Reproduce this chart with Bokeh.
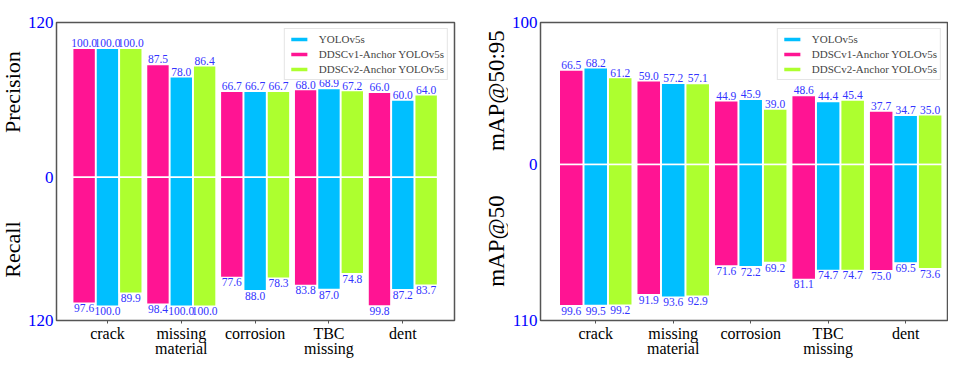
import math
from bokeh.plotting import figure
from bokeh.models import (FixedTicker, Legend, LegendItem, ColumnDataSource,
                          Range1d, LabelSet)
from bokeh.core.properties import value
from bokeh.layouts import row
from bokeh.embed import file_html
from bokeh.resources import INLINE

# ---------------- data ----------------
categories = ["crack", "missing\nmaterial", "corrosion", "TBC\nmissing", "dent"]
series_names = ["DDSCv1-Anchor YOLOv5s", "YOLOv5s", "DDSCv2-Anchor YOLOv5s"]  # bar order in groups
legend_order = ["YOLOv5s", "DDSCv1-Anchor YOLOv5s", "DDSCv2-Anchor YOLOv5s"]
colors = ["#FF1493", "#00BFFF", "#ADFF2F"]

precision_v1 = [100.0, 87.5, 66.7, 68.0, 66.0]
precision_yolo = [100.0, 78.0, 66.7, 68.9, 60.0]
precision_v2 = [100.0, 86.4, 66.7, 67.2, 64.0]

recall_v1 = [97.6, 98.4, 77.6, 83.8, 99.8]
recall_yolo = [100.0, 100.0, 88.0, 87.0, 87.2]
recall_v2 = [89.9, 100.0, 78.3, 74.8, 83.7]

map5095_v1 = [66.5, 59.0, 44.9, 48.6, 37.7]
map5095_yolo = [68.2, 57.2, 45.9, 44.4, 34.7]
map5095_v2 = [61.2, 57.1, 39.0, 45.4, 35.0]

map50_v1 = [99.6, 91.9, 71.6, 81.1, 75.0]
map50_yolo = [99.5, 93.6, 72.2, 74.7, 69.5]
map50_v2 = [99.2, 92.9, 69.2, 74.7, 73.6]

left_tick_labels = ["120", "0", "120"]
right_tick_labels = ["100", "0", "110"]

FONT = "'Liberation Serif', 'Times New Roman', serif"
VAL_COLOR = "#3333FF"
FIG_H = 360
TOP_B = 22
BOTTOM_B = 40


def make_panel(up, down, y_range, tick_labels, width, border_left, border_right,
               x_start, x_end):
    y_top = y_range.end
    y_bottom = -y_range.start
    p = figure(width=width, height=FIG_H, output_backend="svg", toolbar_location=None,
               x_range=Range1d(x_start, x_end), y_range=y_range,
               min_border_left=border_left, min_border_right=border_right,
               min_border_top=TOP_B, min_border_bottom=30)
    p.grid.visible = False
    p.outline_line_color = "#555555"
    p.outline_line_width = 1.5
    p.background_fill_color = "white"

    offsets = [-0.316, 0.0, 0.316]
    renderers = {}
    for k, name in enumerate(series_names):
        xs = [i + offsets[k] for i in range(len(categories))]
        src_up = ColumnDataSource(dict(x=xs, top=up[k], bottom=[0] * len(xs),
                                       lab=[f"{v:.1f}" for v in up[k]]))
        src_dn = ColumnDataSource(dict(x=xs, top=[0] * len(xs), bottom=[-v for v in down[k]],
                                       lab=[f"{v:.1f}" for v in down[k]]))
        r = p.vbar(x="x", width=0.31, top="top", bottom="bottom", source=src_up,
                   fill_color=colors[k], line_color="white", line_width=1.5)
        p.vbar(x="x", width=0.31, top="top", bottom="bottom", source=src_dn,
               fill_color=colors[k], line_color="white", line_width=1.5)
        renderers[name] = r
        p.add_layout(LabelSet(x="x", y="top", text="lab", source=src_up, y_offset=1,
                              text_align="center", text_baseline="bottom",
                              text_font=FONT, text_font_size="11.5px", text_color=VAL_COLOR))
        p.add_layout(LabelSet(x="x", y="bottom", text="lab", source=src_dn, y_offset=-1,
                              text_align="center", text_baseline="top",
                              text_font=FONT, text_font_size="11.5px", text_color=VAL_COLOR))

    # y axis
    ticks = [-y_bottom, 0, y_top]
    p.yaxis.ticker = FixedTicker(ticks=ticks)
    p.yaxis.major_label_overrides = {ticks[0]: tick_labels[2], ticks[1]: tick_labels[1],
                                     ticks[2]: tick_labels[0]}
    p.yaxis.major_label_text_color = "blue"
    p.yaxis.major_label_text_font = FONT
    p.yaxis.major_label_text_font_size = "17px"
    p.yaxis.major_tick_line_color = None
    p.yaxis.major_tick_in = 0
    p.yaxis.major_tick_out = 0
    p.yaxis.minor_tick_line_color = None
    p.yaxis.axis_line_color = None
    p.yaxis.major_label_standoff = 3

    # x axis
    p.xaxis.ticker = FixedTicker(ticks=list(range(len(categories))))
    p.xaxis.major_label_overrides = {i: c for i, c in enumerate(categories)}
    p.xaxis.major_label_text_font = FONT
    p.xaxis.major_label_text_font_size = "16px"
    p.xaxis.major_label_text_line_height = 0.9
    p.xaxis.major_label_text_color = "black"
    p.xaxis.major_tick_in = 0
    p.xaxis.major_tick_out = 3
    p.xaxis.major_tick_line_color = "#555555"
    p.xaxis.minor_tick_line_color = None
    p.xaxis.axis_line_color = None
    p.xaxis.major_label_standoff = 1
    p.xaxis.axis_label_standoff = 0

    legend = Legend(items=[LegendItem(label=n, renderers=[renderers[n]]) for n in legend_order],
                    location="top_right", label_text_font=FONT, label_text_font_size="11px",
                    glyph_width=22, glyph_height=6, label_height=14, spacing=1,
                    padding=3, margin=6, label_standoff=9,
                    border_line_color="#cccccc", border_line_width=1,
                    background_fill_alpha=1.0)
    p.add_layout(legend)
    return p


def make_title_strip(y_range, titles, title_ys, width, size):
    """Narrow strip holding the two half-axis titles, sharing the panel's y range."""
    t = figure(width=width, height=FIG_H, output_backend="svg", toolbar_location=None,
               x_range=Range1d(0, 1), y_range=y_range,
               x_axis_location=None, y_axis_location=None,
               min_border_left=0, min_border_right=0,
               min_border_top=TOP_B, min_border_bottom=BOTTOM_B)
    t.grid.visible = False
    t.outline_line_color = None
    t.text(x=[0.5, 0.5], y=title_ys, text=titles, angle=math.pi / 2,
           text_align="center", text_baseline="middle", text_font=value(FONT),
           text_font_size=value(size), text_color="black")
    return t


yr1 = Range1d(-111, 120)
yr2 = Range1d(-110, 100)

t1 = make_title_strip(yr1, ["Precision", "Recall"], [66, -56], 24, "22px")
p1 = make_panel([precision_v1, precision_yolo, precision_v2],
                [recall_v1, recall_yolo, recall_v2],
                yr1, left_tick_labels, width=460, border_left=30, border_right=30,
                x_start=-0.69, x_end=4.70)

t2 = make_title_strip(yr2, ["mAP@50:95", "mAP@50"], [52, -54], 24, "23px")
p2 = make_panel([map5095_v1, map5095_yolo, map5095_v2],
                [map50_v1, map50_yolo, map50_v2],
                yr2, right_tick_labels, width=440, border_left=30, border_right=1,
                x_start=-0.713, x_end=4.54)

layout = row(t1, p1, t2, p2)
open("out.html", "w").write(file_html(layout, INLINE))
